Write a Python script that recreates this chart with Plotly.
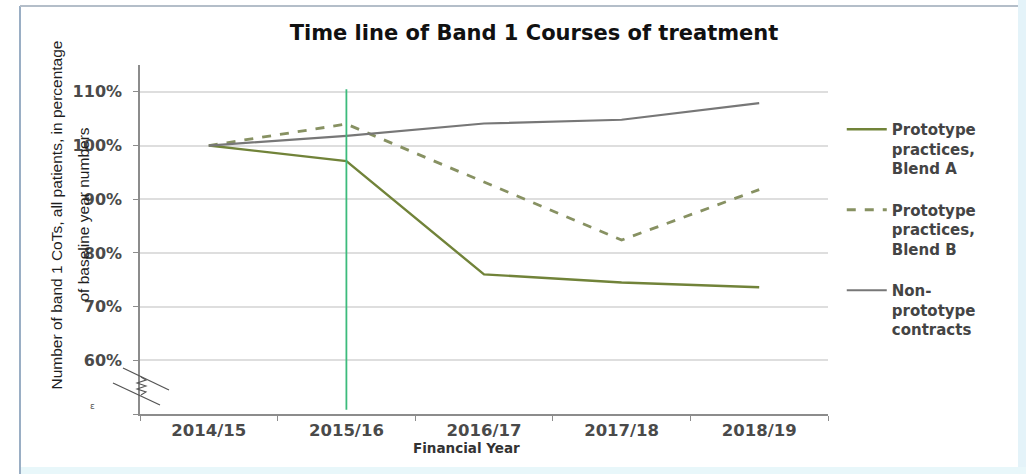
import plotly.graph_objects as go

# Financial years and index values (% of the 2014/15 baseline)
years = ["2014/15", "2015/16", "2016/17", "2017/18", "2018/19"]
blend_a = [100.0, 97.1, 76.0, 74.5, 73.6]
blend_b = [100.0, 104.0, 93.2, 82.4, 91.8]
non_prototype = [100.0, 101.8, 104.1, 104.8, 107.9]

y_tick_vals = [50, 60, 70, 80, 90, 100, 110]
y_tick_text = ["", "60%", "70%", "80%", "90%", "100%", "110%"]

series_names = [
    "Prototype<br>practices,<br>Blend A",
    "Prototype<br>practices,<br>Blend B",
    "Non-<br>prototype<br>contracts",
]

W, H = 1026, 474
M_L, M_R, M_T, M_B = 140, 198, 65, 60
PLOT_W = W - M_L - M_R
PLOT_H = H - M_T - M_B


def px_x(p):
    """Horizontal pixel position -> paper coordinate."""
    return (p - M_L) / PLOT_W


def px_y(p):
    """Vertical pixel position -> paper coordinate."""
    return (H - M_B - p) / PLOT_H


fig = go.Figure()

fig.add_trace(go.Scatter(
    x=years, y=blend_a, name=series_names[0], mode="lines",
    line=dict(color="#718339", width=2.4), legendgroup="a",
))
fig.add_trace(go.Scatter(
    x=years, y=blend_b, name=series_names[1], mode="lines",
    line=dict(color="#879162", width=2.8, dash="dash"), legendgroup="b",
))
fig.add_trace(go.Scatter(
    x=years, y=non_prototype, name=series_names[2], mode="lines",
    line=dict(color="#777777", width=2.2), legendgroup="c",
))

shapes = []

# page frame
shapes.append(dict(type="rect", xref="paper", yref="paper",
                   x0=px_x(1018), x1=px_x(1026), y0=px_y(474), y1=px_y(0),
                   fillcolor="#e4f3f9", line=dict(width=0), layer="below"))
shapes.append(dict(type="rect", xref="paper", yref="paper",
                   x0=px_x(20), x1=px_x(1026), y0=px_y(474), y1=px_y(467),
                   fillcolor="#e8f7fa", line=dict(width=0), layer="below"))
shapes.append(dict(type="line", xref="paper", yref="paper",
                   x0=px_x(20), x1=px_x(20), y0=px_y(474), y1=px_y(6),
                   line=dict(color="#9aaec4", width=2)))
shapes.append(dict(type="line", xref="paper", yref="paper",
                   x0=px_x(20), x1=px_x(1018), y0=px_y(6), y1=px_y(6),
                   line=dict(color="#b4bec9", width=2)))

# marker for the 2015/16 year
shapes.append(dict(type="line", xref="x", yref="y",
                   x0=years[1], x1=years[1], y0=50.8, y1=110.5,
                   line=dict(color="#3cbb7c", width=1.8)))

# axis break symbol
shapes.append(dict(type="line", xref="paper", yref="paper",
                   x0=px_x(123), y0=px_y(368), x1=px_x(169), y1=px_y(390),
                   line=dict(color="#555555", width=1.3)))
shapes.append(dict(type="line", xref="paper", yref="paper",
                   x0=px_x(113), y0=px_y(383), x1=px_x(160), y1=px_y(405),
                   line=dict(color="#555555", width=1.3)))
zig = [(141, 377), (146, 380), (137, 383), (146, 386), (137, 389), (146, 392), (141, 395)]
path = "M " + " L ".join(f"{px_x(a):.5f},{px_y(b):.5f}" for a, b in zig)
shapes.append(dict(type="path", xref="paper", yref="paper", path=path,
                   line=dict(color="#555555", width=1.1)))

annotations = [
    dict(text="Number of band 1 CoTs, all patients, in percentage",
         xref="paper", yref="paper", x=px_x(45), y=px_y(215),
         textangle=-90, showarrow=False,
         font=dict(family="Liberation Sans", size=15.5, color="#1e1e1e")),
    dict(text="of baseline year numbers",
         xref="paper", yref="paper", x=px_x(72), y=px_y(215),
         textangle=-90, showarrow=False,
         font=dict(family="Liberation Sans", size=15.5, color="#1e1e1e")),
    dict(text="Financial Year", xref="paper", yref="paper",
         x=px_x(466), y=px_y(458), showarrow=False,
         font=dict(family="DejaVu Sans", size=13.5, color="#333333", weight="bold")),
    dict(text="ɛ", xref="paper", yref="paper",
         x=px_x(88), y=px_y(413), showarrow=False,
         font=dict(family="DejaVu Sans", size=9, color="#555555")),
]

fig.update_layout(
    width=W, height=H,
    margin=dict(l=M_L, r=M_R, t=M_T, b=M_B, pad=0),
    paper_bgcolor="white", plot_bgcolor="white",
    title=dict(text="<b>Time line of Band 1 Courses of treatment</b>",
               x=px_x(534), xref="paper", xanchor="center",
               y=1 - 33 / H, yanchor="middle",
               font=dict(family="DejaVu Sans", size=21, color="#111111")),
    showlegend=True,
    legend=dict(x=1.02, xanchor="left", y=px_y(113), yanchor="top",
                valign="top",
                font=dict(family="DejaVu Sans", size=15, color="#444444",
                          weight="bold"),
                tracegroupgap=19, bgcolor="rgba(0,0,0,0)", itemwidth=40),
    shapes=shapes,
    annotations=annotations,
)

fig.update_xaxes(
    type="category", range=[-0.5, 4.5],
    showline=True, linecolor="#8c8c8c", linewidth=1.5,
    ticks="outside", tickson="boundaries", ticklen=5, tickcolor="#8c8c8c",
    showgrid=False, zeroline=False,
    tickfont=dict(family="DejaVu Sans", size=16.5, color="#4a4a4a", weight="bold"),
)
fig.update_yaxes(
    range=[50, 115],
    tickvals=y_tick_vals, ticktext=y_tick_text,
    showline=True, linecolor="#8c8c8c", linewidth=1.5,
    ticks="outside", ticklen=5, tickcolor="#8c8c8c",
    showgrid=True, gridcolor="#dedede", gridwidth=1.5, zeroline=False,
    ticklabelstandoff=8,
    tickfont=dict(family="DejaVu Sans", size=16, color="#4a4a4a", weight="bold"),
)

fig.write_html("out.html")
